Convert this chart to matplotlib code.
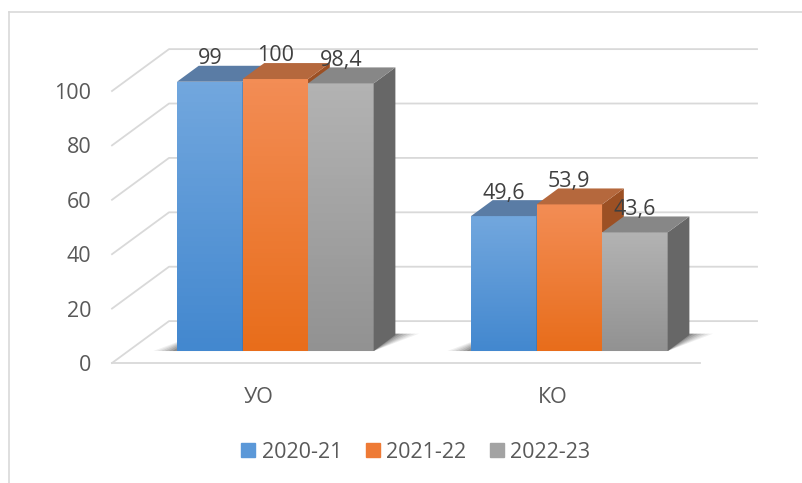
import matplotlib

matplotlib.use("Agg")
import matplotlib.pyplot as plt
import numpy as np
from matplotlib.colors import LinearSegmentedColormap
from matplotlib.lines import Line2D
from matplotlib.patches import Patch, Polygon

plt.rcParams["font.family"] = ["Open Sans", "DejaVu Sans"]

categories = ["УО", "КО"]
series = ["2020-21", "2021-22", "2022-23"]
values = {
    "2020-21": [99, 49.6],
    "2021-22": [100, 53.9],
    "2022-23": [98.4, 43.6],
}
labels = {
    "2020-21": ["99", "49,6"],
    "2021-22": ["100", "53,9"],
    "2022-23": ["98,4", "43,6"],
}
yticks = [0, 20, 40, 60, 80, 100]

# front gradient (top, bottom), top face, side face
colors = {
    "2020-21": ("#72a7de", "#4388cf", "#5a7ca5", "#3f6c9e"),
    "2021-22": ("#f38d55", "#e86d1b", "#b5683d", "#9c5024"),
    "2022-23": ("#b3b3b3", "#929292", "#878787", "#676767"),
}
legend_colors = ["#5b98d8", "#ee7a35", "#a3a3a3"]

# oblique projection of the depth axis (data units)
DX, DY = 0.194, 15.4
D0, D1 = 0.286, 0.667
W = 0.223
GRID = "#d9d9d9"
FS = 15.5

fig = plt.figure(figsize=(8.03, 4.83), dpi=100)
ax = fig.add_axes([112 / 803, 120 / 483, 588 / 803, 272 / 483])
ax.set_xlim(-0.5, 1.5)
ax.set_ylim(0, 100)
for s in ax.spines.values():
    s.set_visible(False)

# walls / gridlines
for v in yticks:
    ax.plot([-0.5, -0.5 + DX, 1.5 + DX], [v, v + DY, v + DY],
            color=GRID, lw=1.3, clip_on=False, zorder=1)
ax.plot([-0.5, 1.5], [0, 0], color=GRID, lw=1.3, clip_on=False, zorder=1)

x = np.arange(len(categories))
offs = [-W, 0, W]


def shade(xl, xr, z):
    # soft floor shadow under a bar group
    for k, a in zip(np.linspace(0.08, 0.015, 6), [0.07, 0.08, 0.1, 0.12, 0.15, 0.2]):
        pts = [(xl - k + D0 * DX, D0 * DY), (xr + D0 * DX, D0 * DY),
               (xr + k + D1 * DX, D1 * DY + 0.5), (xl + D1 * DX, D1 * DY + 0.5)]
        ax.add_patch(Polygon(pts, closed=True, color="#303030", alpha=a,
                             lw=0, clip_on=False, zorder=z))


for i in range(len(categories)):
    shade(x[i] - 1.5 * W, x[i] + 1.5 * W, 2)

z = 3
for i in range(len(categories)):
    for j, s in enumerate(series):
        v = values[s][i]
        top_c, bot_c, roof_c, side_c = colors[s]
        xl = x[i] + offs[j] - W / 2 + D0 * DX
        xr = xl + W
        y0 = D0 * DY
        bars = ax.bar(xl, v, W, bottom=y0, align="edge", color=bot_c,
                      lw=0, clip_on=False, zorder=z)
        cmap = LinearSegmentedColormap.from_list("g", [bot_c, top_c])
        im = ax.imshow(np.linspace(0, 1, 64).reshape(-1, 1), cmap=cmap,
                       extent=[xl, xr, y0, y0 + v], origin="lower",
                       aspect="auto", zorder=z + 0.1)
        im.set_clip_path(bars.patches[0])
        dx, dy = (D1 - D0) * DX, (D1 - D0) * DY
        side = [(xr, y0), (xr + dx, y0 + dy), (xr + dx, y0 + v + dy), (xr, y0 + v)]
        ax.add_patch(Polygon(side, closed=True, color=side_c, lw=0,
                             clip_on=False, zorder=z + 0.2))
        roof = [(xl, y0 + v), (xr, y0 + v), (xr + dx, y0 + v + dy), (xl + dx, y0 + v + dy)]
        ax.add_patch(Polygon(roof, closed=True, color=roof_c, lw=0,
                             clip_on=False, zorder=z + 0.3))
        ax.text((xl + xr) / 2, y0 + v + dy + 0.6, labels[s][i], ha="center",
                va="baseline", fontsize=FS, color="#404040", zorder=20)
        z += 1

ax.set_xlim(-0.5, 1.5)
ax.set_ylim(0, 100)
ax.set_xticks(x)
ax.set_xticklabels(categories)
ax.set_yticks(yticks)
ax.tick_params(axis="both", length=0, labelsize=FS, labelcolor="#595959")
ax.tick_params(axis="y", pad=15)
ax.tick_params(axis="x", pad=17)

handles = [Patch(color=c, label=s) for c, s in zip(legend_colors, series)]
fig.legend(handles=handles, loc="center", bbox_to_anchor=(0.518, 0.064), ncol=3,
           frameon=False, fontsize=FS, handlelength=0.65, handleheight=0.65,
           handletextpad=0.3, columnspacing=1.1, labelcolor="#595959")

# chart area border
fig.add_artist(Line2D([9 / 803, 9 / 803], [0, 1 - 12 / 483], color=GRID, lw=1.2))
fig.add_artist(Line2D([9 / 803, 1], [1 - 12 / 483, 1 - 12 / 483], color=GRID, lw=1.2))

fig.savefig("out.png", dpi=100)
